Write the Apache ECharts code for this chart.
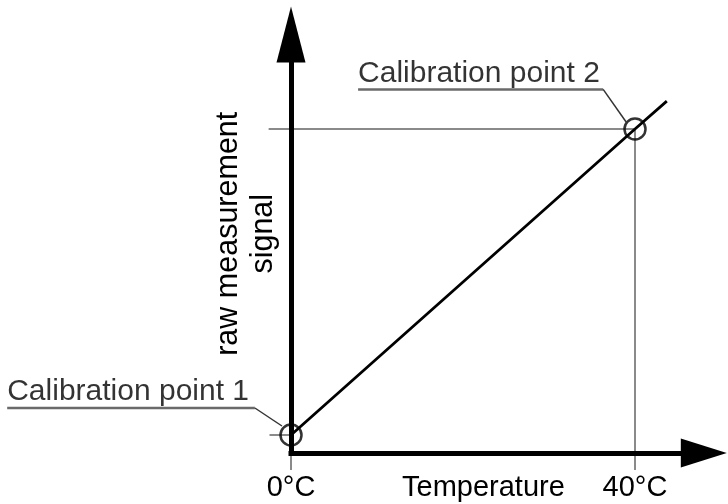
<!DOCTYPE html>
<html>
<head>
<meta charset="utf-8">
<script src="https://cdn.jsdelivr.net/npm/echarts@6/dist/echarts.min.js"></script>
<style>
html,body{margin:0;padding:0;background:#fff;}
#chart{width:728px;height:504px;}
</style>
</head>
<body>
<div id="chart"></div>
<script>
// ---- data (temperature in °C, raw signal in arbitrary units) ----
var tempMin = 0, tempMax = 48;
var signalMin = 0, signalMax = 46.5;
var xTickValues = [0, 40];
var xTickLabels = ['0°C', '40°C'];
var xAxisName = 'Temperature';
var yAxisName = 'raw measurement\nsignal';
var calibrationPoints = [[0, 2], [40, 36]];
var characteristic = [[0, 2], [40, 36], [43.7, 39.1]];
var guideH2 = [[-2.6, 36], [40, 36]];
var guideV2 = [[40, 36], [40, -1.9]];
var guideH1 = [[-2.5, 2], [0, 2]];
var guideV1 = [[0, 0], [0, -1.9]];
var leaderUnder1 = [[-33.0, 5.0], [-4.2, 5.0]];
var leaderDiag1 = [[-4.2, 5.0], [-1.05, 3.0]];
var leaderUnder2 = [[7.8, 40.4], [36.3, 40.4]];
var leaderDiag2 = [[36.3, 40.4], [38.95, 36.8]];
var leaderTexts = ['Calibration point 1', 'Calibration point 2'];

var FONT = "'Liberation Sans', Arial, Helvetica, sans-serif";
var FS = 29;

function seg(coords, color, width) {
  return {
    type: 'lines', coordinateSystem: 'cartesian2d', polyline: true, clip: false, silent: true, z: 2,
    data: [{ coords: coords }],
    lineStyle: { color: color, width: width, opacity: 1 }
  };
}
function textAt(point, text) {
  return {
    type: 'scatter', data: [point], symbol: 'circle', symbolSize: 0, clip: false, silent: true, z: 2,
    itemStyle: { color: 'rgba(0,0,0,0)' },
    label: { show: true, formatter: text, position: 'top', align: 'left', verticalAlign: 'bottom',
      distance: 1, offset: [0, 0], color: '#000', fontSize: 30, fontFamily: FONT }
  };
}

var chart = echarts.init(document.getElementById('chart'), null, { renderer: 'canvas' });
chart.setOption({
  animation: false,
  backgroundColor: '#fff',
  grid: { left: 291, top: 34.5, width: 412.8, height: 418.5, containLabel: false, outerBoundsMode: 'none' },
  xAxis: {
    type: 'value', min: tempMin, max: tempMax, interval: 40, z: 3,
    axisLine: { show: true, onZero: false, symbol: ['none', 'triangle'], symbolSize: [29, 46],
      lineStyle: { color: '#000', width: 5, cap: 'square' } },
    axisTick: { show: false }, splitLine: { show: false },
    axisLabel: { margin: 20, color: '#000', fontSize: FS, fontFamily: FONT, showMaxLabel: false,
      formatter: function (v) { var i = xTickValues.indexOf(v); return i >= 0 ? xTickLabels[i] : ''; } },
    name: xAxisName, nameLocation: 'middle', nameGap: 20, nameMoveOverlap: false,
    nameTextStyle: { color: '#000', fontSize: FS, fontFamily: FONT, padding: [0, 28, 0, 0], verticalAlign: 'top' }
  },
  yAxis: {
    type: 'value', min: signalMin, max: signalMax, z: 3,
    axisLine: { show: true, onZero: false, symbol: ['none', 'triangle'], symbolSize: [29, 56],
      lineStyle: { color: '#000', width: 5, cap: 'square' } },
    axisTick: { show: false }, splitLine: { show: false }, axisLabel: { show: false },
    name: yAxisName, nameLocation: 'middle', nameRotate: 90, nameGap: 10, nameMoveOverlap: false,
    nameTextStyle: { color: '#000', fontSize: 30.5, fontFamily: FONT, lineHeight: 35, padding: [0, 0, 0, 20] }
  },
  series: [
    seg(guideH2, '#8a8a8a', 2), seg(guideV2, '#8a8a8a', 2),
    seg(guideH1, '#8a8a8a', 2), seg(guideV1, '#8a8a8a', 2),
    seg(leaderUnder1, '#6a6a6a', 2.5), seg(leaderDiag1, '#333333', 1.5),
    seg(leaderUnder2, '#6a6a6a', 2.5), seg(leaderDiag2, '#333333', 1.5),
    textAt(leaderUnder1[0], leaderTexts[0]),
    textAt(leaderUnder2[0], leaderTexts[1]),
    { type: 'line', data: characteristic, symbol: 'none', clip: false, silent: true, z: 4,
      lineStyle: { color: '#000', width: 2.8 } },
    { type: 'scatter', data: calibrationPoints, symbol: 'circle', symbolSize: 21, clip: false, silent: true, z: 5,
      itemStyle: { color: 'rgba(0,0,0,0)', borderColor: '#000', borderWidth: 2.5 } }
  ]
});
</script>
</body>
</html>
